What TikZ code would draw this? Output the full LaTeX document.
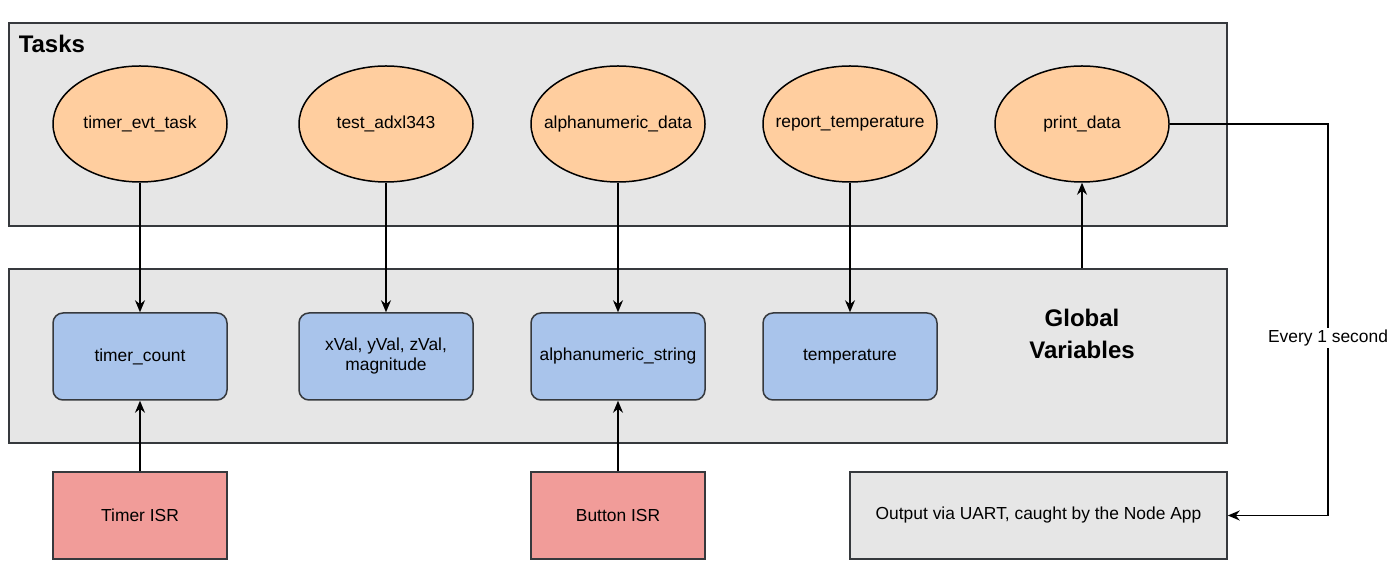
\documentclass[tikz,border=0pt]{standalone}
\usepackage{fontspec}
\setmainfont{Liberation Sans}
\usetikzlibrary{positioning}
\usetikzlibrary{arrows,shapes}
\usetikzlibrary{arrows.meta}
\definecolor{taskfill}{HTML}{FFCE9F}
\definecolor{varfill}{HTML}{A9C4EB}
\definecolor{isrfill}{HTML}{F19C99}
\definecolor{groupfill}{HTML}{E6E6E6}
\definecolor{groupline}{HTML}{36393D}

\begin{document}
\begin{tikzpicture}[x=0.5pt, y=-0.5pt, line width=0.75pt,
	font=\fontsize{8.7}{10}\selectfont,
	group/.style={rectangle, draw=groupline, fill=groupfill, inner sep=0pt},
	task/.style={ellipse, draw, fill=taskfill, minimum width=87pt, minimum height=58pt, inner xsep=-20pt, inner ysep=0pt},
	var/.style={rectangle, rounded corners=5pt, draw=groupline, fill=varfill, minimum width=87pt, minimum height=43.5pt, align=center, inner sep=0pt},
	isr/.style={rectangle, draw=groupline, fill=isrfill, minimum width=87pt, minimum height=43.5pt},
	title/.style={font=\bfseries\fontsize{12}{16}\selectfont, align=center, inner sep=0pt},
	flow/.style={-{Stealth[length=6pt, width=5pt]}}]
	  \useasboundingbox (0,0) rectangle (1395,581);
	  % the two groups
	  \node[group, minimum width=609pt, minimum height=101.5pt] (tasks) at (618,124.5) {};
	  \node[group, minimum width=609pt, minimum height=87pt] (globals) at (618,356) {};
	  \node[title, anchor=west] (taskslabel) at (18,44) {Tasks};
	  \node[title] (globalslabel) at (1082,334) {Global\\Variables};
	  % tasks
	  \node[task] (timertask) at (140,124) {timer\_evt\_task};
	  \node[task] (adxltask) at (386,124) {test\_adxl343};
	  \node[task] (alphatask) at (618,124) {alphanumeric\_data};
	  \node[task] (temptask) at (850,124) {report\_temperature};
	  \node[task] (printtask) at (1082,124) {print\_data};
	  % global variables
	  \node[var] (timervar) at (140,356.5) {timer\_count};
	  \node[var] (adxlvar) at (386,356.5) {xVal, yVal, zVal,\\magnitude};
	  \node[var] (alphavar) at (618,356.5) {alphanumeric\_string};
	  \node[var] (tempvar) at (850,356.5) {temperature};
	  % interrupts and output
	  \node[isr] (timerisr) at (140,515.5) {Timer ISR};
	  \node[isr] (buttonisr) at (618,515.5) {Button ISR};
	  \node[group, minimum width=188.5pt, minimum height=43.5pt] (output) at (1038.5,515.5) {Output via UART, caught by the Node App};
	  % connectors
	  \draw[flow] (timertask) -- (timervar);
	  \draw[flow] (adxltask) -- (adxlvar);
	  \draw[flow] (alphatask) -- (alphavar);
	  \draw[flow] (temptask) -- (tempvar);
	  \draw[flow] (timerisr) -- (timervar);
	  \draw[flow] (buttonisr) -- (alphavar);
	  \draw[flow] (globals.north -| printtask.south) -- (printtask.south);
	  \coordinate (turn) at (1328,338);
	  \draw[flow] (printtask.east) -| (turn) |- (output.east);
	  \node[fill=white, inner sep=1pt] (every) at (turn) {Every 1 second};
	\end{tikzpicture}
\end{document}
